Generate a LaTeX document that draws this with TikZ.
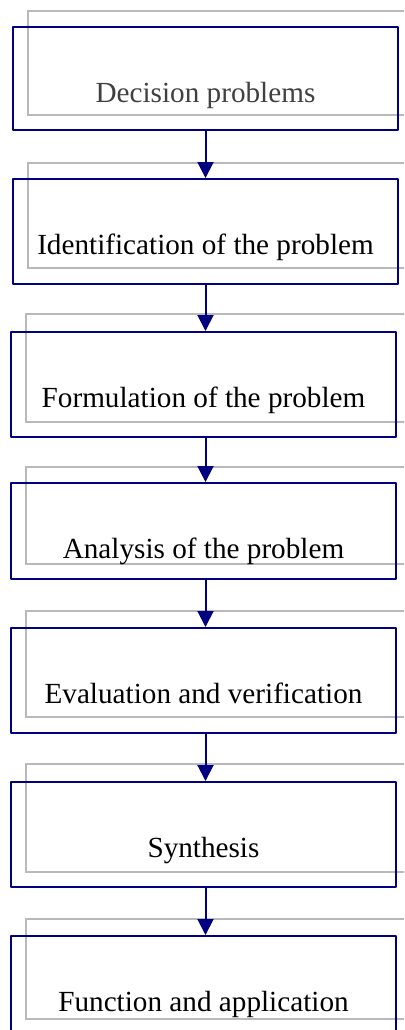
\documentclass[tikz,border=0pt]{standalone}
\usepackage{fontspec}
\setmainfont{Liberation Serif}
\usetikzlibrary{calc,arrows.meta,backgrounds}

\definecolor{boxblue}{RGB}{0,0,128}

\tikzset{
	stepbox/.style={draw=boxblue, line width=1pt, anchor=north west,
		minimum width=192.5pt, inner sep=0pt, text height=37.5pt, text depth=15pt,
		font=\fontsize{14.6pt}{17pt}\selectfont},
	shadowframe/.style={draw=gray!55, line width=1pt},
	flow/.style={draw=boxblue, line width=1pt, -{Triangle[width=8pt,length=8pt]}}
}

\begin{document}
\begin{tikzpicture}[x=0.5pt,y=-0.5pt,line join=round]
	\useasboundingbox (0,0) rectangle (404,1030);
	
	% Blue step boxes
	\node[stepbox, text depth=14pt, text=black!75] (decision) at (12,26)  {Decision problems};
	\node[stepbox] (identify) at (12,178) {Identification of the problem};
	\node[stepbox] (formulate) at (10,331) {Formulation of the problem};
	\node[stepbox, text depth=10.5pt] (analyse) at (10,482) {Analysis of the problem};
	\node[stepbox] (evaluate) at (10,627) {Evaluation and verification};
	\node[stepbox] (synth) at (10,781) {Synthesis};
	\node[stepbox] (apply) at (10,935) {Function and application};
	
	% Gray frames behind
	\begin{scope}[on background layer]
		\clip (0,0) rectangle (404,1030);
		\draw[shadowframe] ($(decision.north west)+(16,-15)$) rectangle ($(decision.south east)+(30,-16)$);
		\draw[shadowframe] ($(identify.north west)+(16,-15)$) rectangle ($(identify.south east)+(30,-17)$);
		\draw[shadowframe] ($(formulate.north west)+(16,-17)$) rectangle ($(formulate.south east)+(30,-16)$);
		\draw[shadowframe] ($(analyse.north west)+(16,-15)$) rectangle ($(analyse.south east)+(30,-16)$);
		\draw[shadowframe] ($(evaluate.north west)+(16,-16)$) rectangle ($(evaluate.south east)+(30,-17)$);
		\draw[shadowframe] ($(synth.north west)+(16,-17)$) rectangle ($(synth.south east)+(30,-16)$);
		\draw[shadowframe] ($(apply.north west)+(16,-16)$) rectangle ($(apply.south east)+(30,-23)$);
	\end{scope}
	
	% Arrows
	\draw[flow] (decision.south) -- (decision.south |- identify.north);
	\draw[flow] (decision.south |- identify.south) -- (decision.south |- formulate.north);
	\draw[flow] (decision.south |- formulate.south) -- (decision.south |- analyse.north);
	\draw[flow] (decision.south |- analyse.south) -- (decision.south |- evaluate.north);
	\draw[flow] (decision.south |- evaluate.south) -- (decision.south |- synth.north);
	\draw[flow] (decision.south |- synth.south) -- (decision.south |- apply.north);
\end{tikzpicture}
\end{document}
